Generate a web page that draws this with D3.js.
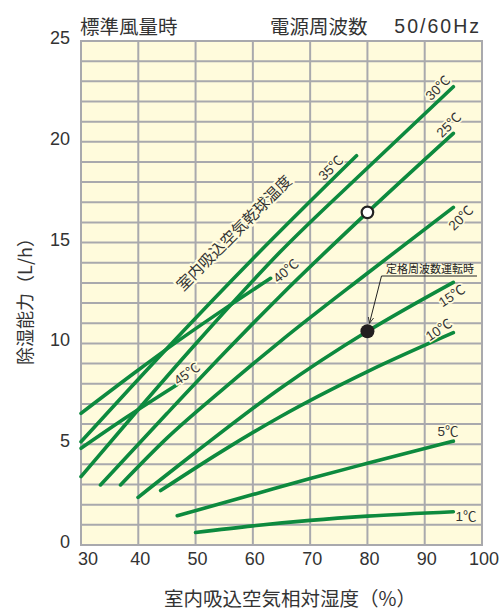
<!DOCTYPE html>
<html><head><meta charset="utf-8">
<script src="https://cdn.jsdelivr.net/npm/d3@7"></script>
<style>
html,body{margin:0;padding:0;background:#fff;}
text{font-family:"Liberation Sans","Noto Sans CJK JP",sans-serif;}
.jp{font-family:"Noto Sans CJK JP",sans-serif;}
</style></head>
<body><svg id="c" width="503" height="610"></svg>
<script>
// ---- data ----
const xTicks = [30,40,50,60,70,80,90,100];
const yTicks = [0,5,10,15,20,25];
const seriesLabels = ["1℃","5℃","10℃","15℃","20℃","25℃","30℃","35℃","40℃","45℃"];
const t1  = [[50,0.62],[60,0.95],[70,1.22],[80,1.43],[95,1.65]];
const t5  = [[46.8,1.45],[60,2.5],[70,3.3],[80,4.05],[95,5.15]];
const t10 = [[43.9,2.7],[55,4.72],[64.7,6.35],[80,8.6],[95,10.53]];
const t15 = [[39.95,2.36],[50,4.6],[64.7,7.75],[80,10.6],[95,13.03]];
const t20 = [[36.9,2.98],[45,5.3],[55,7.78],[64.7,10.08],[80,13.48],[95,16.75]];
const t25 = [[33.4,2.98],[45,6.52],[55,9.52],[64.7,12.33],[80,16.5],[95,20.42]];
const t30 = [[30,3.39],[40,6.72],[50,9.97],[64.7,14.52],[80,18.7],[95,22.73]];
const t35 = [[30,5.12],[45,9.75],[60,14.2],[78.1,19.31]];
const t40 = [[30,6.53],[40,8.68],[46.1,9.95],[55,11.7],[63.1,13.23]];
const t45 = [[30,4.8],[38,6.35],[46.7,7.94]];
const allSeries = [t1,t5,t10,t15,t20,t25,t30,t35,t40,t45];
const ratedPoint = [80,10.6];   // 定格周波数運転時
const stdPoint = [80,16.5];     // 白丸

// ---- layout ----
const svg = d3.select("#c");
const L=81, R=482, T=41, B=545;
const x = d3.scaleLinear().domain([30,100]).range([L,R]);
const y = d3.scaleLinear().domain([0,25]).range([B,T]);
const green = "#0d8a3e", grid="#a9a9ad", bg="#fffbdc";

svg.append("rect").attr("x",L).attr("y",T).attr("width",R-L).attr("height",B-T).attr("fill",bg);
// grid
const gy = d3.range(0,26,1);
svg.append("g").selectAll("line").data(gy).join("line")
  .attr("x1",L).attr("x2",R).attr("y1",d=>y(d)).attr("y2",d=>y(d))
  .attr("stroke",grid).attr("stroke-width",2);
svg.append("g").selectAll("line").data(xTicks).join("line")
  .attr("y1",T).attr("y2",B).attr("x1",d=>x(d)).attr("x2",d=>x(d))
  .attr("stroke",grid).attr("stroke-width",2);
svg.append("rect").attr("x",L).attr("y",T).attr("width",R-L).attr("height",B-T)
  .attr("fill","none").attr("stroke",grid).attr("stroke-width",2);

// tick labels
svg.append("g").selectAll("text").data(xTicks).join("text")
  .attr("x",d=>x(d)+(d===30?7:2)).attr("y",559).attr("text-anchor","middle")
  .attr("dominant-baseline","central")
  .attr("font-size",18).attr("fill","#333").text(d=>d);
svg.append("g").selectAll("text").data(yTicks).join("text")
  .attr("x",70).attr("y",d=>y(d)-3).attr("text-anchor","end")
  .attr("dominant-baseline","central")
  .attr("font-size",18).attr("fill","#333").text(d=>d);

// rotated dry-bulb label (behind lines)
svg.append("text").attr("class","jp").attr("transform","translate(233,232) rotate(-45)")
  .attr("text-anchor","middle").attr("dominant-baseline","central")
  .attr("font-size",15.5).attr("fill","#333")
  .attr("stroke",bg).attr("stroke-width",4).attr("paint-order","stroke")
  .text("室内吸込空気乾球温度");

// lines
const line = d3.line().x(d=>x(d[0])).y(d=>y(d[1])).curve(d3.curveMonotoneX);
svg.append("g").selectAll("path").data(allSeries).join("path")
  .attr("d",line).attr("fill","none").attr("stroke",green)
  .attr("stroke-width",3.6).attr("stroke-linecap","round");

// series labels
const labelPos = [[466,516,0],[448,431,0],[439,330,-33],[452,296,-33],[461,218,-45],[449,125,-45],[438,88,-45],[331,168,-45],[286,271,-40],[187,374,-35]];
svg.append("g").selectAll("text").data(seriesLabels).join("text")
  .attr("transform",(d,i)=>`translate(${labelPos[i][0]},${labelPos[i][1]}) rotate(${labelPos[i][2]})`)
  .attr("text-anchor","middle").attr("dominant-baseline","central")
  .attr("font-size",13.5).attr("fill","#333")
  .attr("stroke",bg).attr("stroke-width",3).attr("paint-order","stroke")
  .text(d=>d);

// points
svg.append("circle").attr("cx",x(stdPoint[0])).attr("cy",y(stdPoint[1])).attr("r",5.8)
  .attr("fill","#fff").attr("stroke","#222").attr("stroke-width",2.2);
svg.append("circle").attr("cx",x(ratedPoint[0])).attr("cy",y(ratedPoint[1])).attr("r",7)
  .attr("fill","#231f20");

// annotation
svg.append("defs").append("marker").attr("id","ar").attr("viewBox","0 0 10 10")
  .attr("refX",9).attr("refY",5).attr("markerWidth",7).attr("markerHeight",7).attr("orient","auto")
  .append("path").attr("d","M0,1 L9,5 L0,9").attr("fill","none").attr("stroke","#222").attr("stroke-width",1.2);
svg.append("line").attr("x1",381.5).attr("y1",276).attr("x2",477).attr("y2",276).attr("stroke","#222").attr("stroke-width",1);
svg.append("line").attr("x1",381.5).attr("y1",276).attr("x2",x(ratedPoint[0])+2).attr("y2",y(ratedPoint[1])-8)
  .attr("stroke","#222").attr("stroke-width",1).attr("marker-end","url(#ar)");
svg.append("text").attr("class","jp").attr("x",430).attr("y",268).attr("text-anchor","middle")
  .attr("dominant-baseline","central").attr("font-size",11).attr("fill","#222").text("定格周波数運転時");

// header
svg.append("text").attr("class","jp").attr("x",80).attr("y",25).attr("dominant-baseline","central")
  .attr("font-size",19.5).attr("fill","#333").text("標準風量時");
svg.append("text").attr("class","jp").attr("x",270).attr("y",25).attr("dominant-baseline","central")
  .attr("font-size",19.5).attr("fill","#333").text("電源周波数");
svg.append("text").attr("x",481).attr("y",26).attr("text-anchor","end").attr("dominant-baseline","central")
  .attr("font-size",19.5).attr("letter-spacing",2).attr("fill","#333").text("50/60Hz");

// axis titles
svg.append("text").attr("class","jp").attr("x",290).attr("y",597).attr("text-anchor","middle")
  .attr("dominant-baseline","central").attr("font-size",19.5).attr("fill","#333").text("室内吸込空気相対湿度（%）");
svg.append("text").attr("class","jp").attr("transform","translate(24,297) rotate(-90)").attr("text-anchor","middle")
  .attr("dominant-baseline","central").attr("font-size",18).attr("fill","#333").text("除湿能力（L/h）");
</script></body></html>
